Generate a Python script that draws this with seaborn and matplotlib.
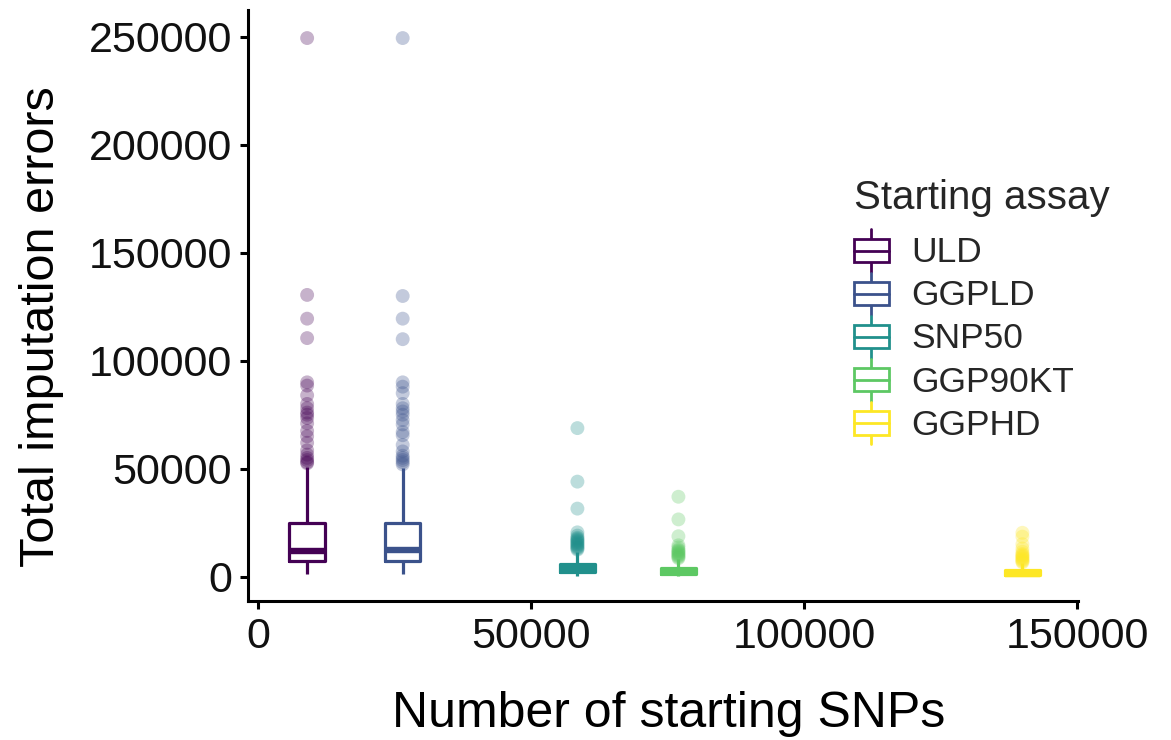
import matplotlib
matplotlib.use("Agg")
import matplotlib.pyplot as plt
import pandas as pd
import seaborn as sns
from matplotlib.legend_handler import HandlerBase
from matplotlib.lines import Line2D
from matplotlib.patches import Rectangle

# Assays, their number of starting SNPs and colours (viridis)
assays = ["ULD", "GGPLD", "SNP50", "GGP90KT", "GGPHD"]
starting_snps = [9000, 26500, 58500, 77000, 140000]
colors = ["#440154", "#3B528B", "#21908C", "#5DC863", "#FDE725"]

# Box summaries: lower whisker, Q1, median, Q3, upper whisker
whisker_low = [1000, 1000, 300, 200, 100]
quartile_1 = [7400, 7400, 2000, 1200, 700]
median = [12000, 12500, 3500, 2000, 1400]
quartile_3 = [25000, 24800, 6000, 4000, 3000]
whisker_high = [51000, 50500, 11500, 8000, 6200]

# Outlying animals (total imputation errors)
outliers_uld = [249500, 130500, 119500, 110500, 90000, 88500, 84000, 80000,
                78000, 76000, 75000, 73500, 71000, 67500, 65000, 62000,
                58500, 56500, 55000, 54000, 53000, 52500]
outliers_ggpld = [249500, 130000, 119500, 110000, 90000, 88000, 85000, 80000,
                  78000, 76500, 75000, 72500, 70500, 67000, 65500, 61000,
                  58000, 56000, 55000, 54000, 53000, 52000]
outliers_snp50 = [68800, 44000, 31500, 20500, 19000, 18000, 17500, 17000,
                  16500, 16000, 15500, 15000, 14500, 14000, 13500, 13000,
                  12500]
outliers_ggp90kt = [37000, 26500, 18700, 14500, 13500, 12500, 12000, 11500,
                    11000, 10500, 10000, 9500, 9000, 8500]
outliers_ggphd = [20300, 18500, 15000, 13000, 11500, 10500, 10000, 9500,
                  9000, 8500, 8000, 7500, 7000, 6600]
outliers = [outliers_uld, outliers_ggpld, outliers_snp50, outliers_ggp90kt,
            outliers_ggphd]

# Long-form tables for seaborn
box_rows = []
for i, a in enumerate(assays):
    for v in (whisker_low[i], quartile_1[i], median[i], quartile_3[i], whisker_high[i]):
        box_rows.append({"assay": a, "snps": starting_snps[i], "errors": v})
box_df = pd.DataFrame(box_rows)

out_rows = []
for i, a in enumerate(assays):
    for v in outliers[i]:
        out_rows.append({"assay": a, "snps": starting_snps[i], "errors": v})
out_df = pd.DataFrame(out_rows)

sns.set_theme(style="white")
plt.rcParams["font.family"] = ["Liberation Sans", "DejaVu Sans"]

fig = plt.figure(figsize=(11.71, 7.40), dpi=100)
ax = fig.add_axes([248 / 1171, 1 - 601 / 740, 830 / 1171, 591 / 740])

sns.boxplot(data=box_df, x="snps", y="errors", hue="assay", hue_order=assays,
            palette=colors, native_scale=True, fill=False, dodge=False,
            width=0.37, linewidth=2.3, showcaps=False, showfliers=False,
            medianprops={"linewidth": 4.6}, legend=False, ax=ax)

sns.scatterplot(data=out_df, x="snps", y="errors", hue="assay",
                hue_order=assays, palette=colors, alpha=0.3, s=100,
                edgecolor="none", legend=False, ax=ax, zorder=1)

ax.set_xlim(-1830, 150180)
ax.set_ylim(-11300, 262500)
ax.set_xticks([0, 50000, 100000, 150000])
ax.set_xticklabels(["0", "50000", "100000", "150000"])
ax.set_yticks([0, 50000, 100000, 150000, 200000, 250000])
ax.set_yticklabels(["0", "50000", "100000", "150000", "200000", "250000"])

for side in ("top", "right"):
    ax.spines[side].set_visible(False)
for side in ("left", "bottom"):
    ax.spines[side].set_linewidth(2.2)
    ax.spines[side].set_color("black")

ax.tick_params(axis="both", which="major", length=5.5, width=2.2,
               color="black", labelsize=31, labelcolor="#111111", pad=6,
               bottom=True, left=True, direction="out")

ax.set_xlabel("Number of starting SNPs", fontsize=36, color="black")
ax.set_ylabel("Total imputation errors", fontsize=35, color="black")
ax.xaxis.set_label_coords(0.507, -0.153)
ax.yaxis.set_label_coords(-0.222, 0.465)


class BoxKeyHandler(HandlerBase):
    """Draws a small boxplot glyph as the legend key."""

    def create_artists(self, legend, orig_handle, xdescent, ydescent,
                       width, height, fontsize, trans):
        color = orig_handle.get_color()
        x0 = -xdescent
        y0 = -ydescent
        cx = x0 + width / 2
        lw = 2.0
        whisker = Line2D([cx, cx], [y0, y0 + height], color=color, lw=lw,
                         transform=trans)
        bh = height * 0.55
        by = y0 + (height - bh) / 2
        box = Rectangle((x0, by), width, bh, facecolor="white",
                        edgecolor=color, lw=lw, transform=trans)
        mid = Line2D([x0, x0 + width], [y0 + height / 2] * 2, color=color,
                     lw=lw, transform=trans)
        return [whisker, box, mid]


handles = [Line2D([], [], color=c) for c in colors]
leg = ax.legend(handles, assays, title="Starting assay",
                handler_map={Line2D: BoxKeyHandler()}, frameon=False,
                loc="upper left", bbox_to_anchor=(854 / 1171, 1 - 179 / 740),
                bbox_transform=fig.transFigure, fontsize=25.5,
                title_fontsize=29, handlelength=0.98, handleheight=1.45,
                labelspacing=0.03, handletextpad=0.65, borderpad=0,
                borderaxespad=0, alignment="left")
# extra room between the legend title and its entries
leg._legend_box.sep = 9

fig.savefig("out.png", dpi=100)
